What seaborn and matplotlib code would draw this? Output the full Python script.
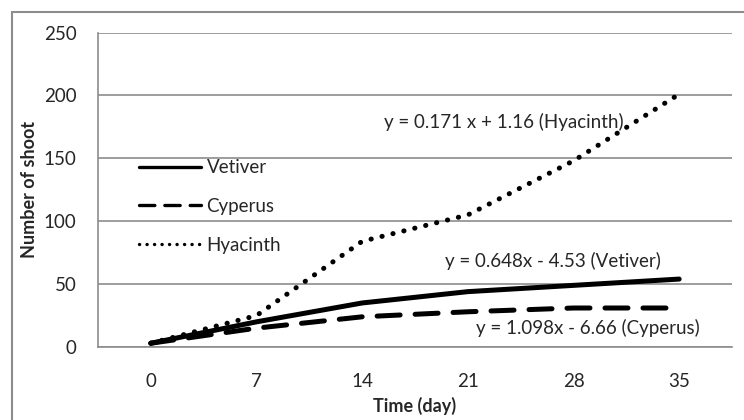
import pandas as pd
import seaborn as sns
import matplotlib.pyplot as plt
from matplotlib.lines import Line2D

# values
days = ['0', '7', '14', '21', '28', '35']
vetiver = [3, 20, 35, 44, 49, 54]
cyperus = [3, 15, 24, 28, 31, 31]
hyacinth = [3, 25, 84, 105, 148, 201]
y_ticks = [0, 50, 100, 150, 200, 250]

pos = list(range(len(days)))
df = pd.DataFrame({'pos': pos * 3,
                   'shoots': vetiver + cyperus + hyacinth,
                   'plant': ['Vetiver'] * 6 + ['Cyperus'] * 6 + ['Hyacinth'] * 6})

sns.set_style('white')
plt.rcParams['font.family'] = ['Lato', 'DejaVu Sans']
fs = 13.5

fig = plt.figure(figsize=(7.44, 4.2), dpi=100)
ax = fig.add_axes([98 / 744, 1 - 347 / 420, (732 - 98) / 744, (347 - 32.5) / 420])

styles = {'Vetiver': '-', 'Cyperus': (0, (4.6, 3.0)), 'Hyacinth': (0, (0.05, 2.2))}
for plant, ls in styles.items():
    sub = df[df['plant'] == plant]
    sns.lineplot(data=sub, x='pos', y='shoots', ax=ax, color='black', lw=3.6,
                 linestyle=ls, dash_capstyle='round', solid_capstyle='round',
                 legend=False)

ax.set_xlim(-0.5, len(days) - 0.5)
ax.set_ylim(0, 250)
ax.set_yticks(y_ticks)
ax.set_xticks(pos)
ax.set_xticklabels(days)
ax.set_xticks([p - 0.5 for p in pos] + [len(days) - 0.5], minor=True)
ax.tick_params(axis='x', which='major', length=0, pad=19, labelsize=fs)
ax.tick_params(axis='x', which='minor', length=4.5, color='#8c8c8c', width=1.2, direction='out')
ax.tick_params(axis='y', length=4.5, color='#8c8c8c', width=1.2, direction='out', labelsize=fs, pad=11)
ax.grid(axis='y', color='#8c8c8c', lw=1.2)
ax.set_axisbelow(True)
for s in ['top', 'right']:
    ax.spines[s].set_visible(False)
for s in ['left', 'bottom']:
    ax.spines[s].set_color('#8c8c8c')
    ax.spines[s].set_linewidth(1.2)

ax.set_xlabel('Time (day)', fontsize=13, fontweight='bold', labelpad=5)
ax.set_ylabel('Number of shoot', fontsize=13, fontweight='bold', labelpad=4)

handles = [Line2D([], [], color='black', lw=2.4, linestyle=styles[p],
                  dash_capstyle='round') for p in ['Vetiver', 'Cyperus', 'Hyacinth']]
ax.legend(handles, ['Vetiver', 'Cyperus', 'Hyacinth'], loc='upper left',
          bbox_to_anchor=(0.038, 0.65), frameon=False, fontsize=fs,
          handlelength=3.3, handletextpad=0.3, labelspacing=1.15)

ax.text(2.21, 179, 'y = 0.171 x + 1.16 (Hyacinth)', fontsize=fs, va='center')
ax.text(2.78, 68, 'y = 0.648x - 4.53 (Vetiver)', fontsize=fs, va='center')
ax.text(3.08, 15, 'y = 1.098x - 6.66 (Cyperus)', fontsize=fs, va='center')

# chart border (only top and left visible in the crop)
fig.add_artist(Line2D([12 / 744, 12 / 744], [0, 1 - 12 / 420], color='#8c8c8c', lw=1.5))
fig.add_artist(Line2D([12 / 744, 1], [1 - 12 / 420, 1 - 12 / 420], color='#8c8c8c', lw=1.5))

fig.savefig('out.png', dpi=100)
